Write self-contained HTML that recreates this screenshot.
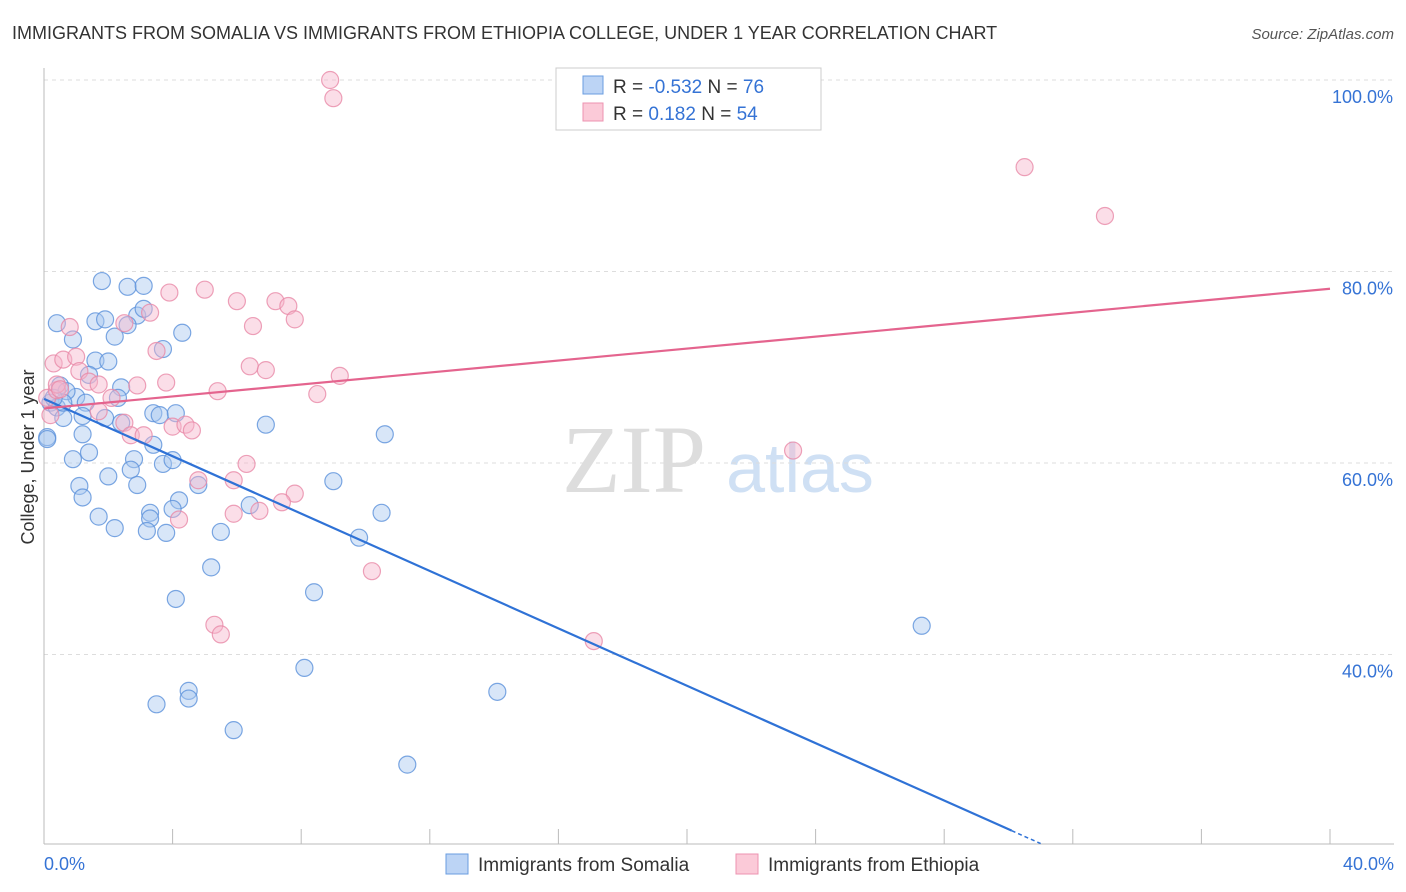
<!DOCTYPE html>
<html><head><meta charset="utf-8"><style>
body{margin:0;background:#fff;font-family:"Liberation Sans",sans-serif}
</style></head><body>
<svg id="c" width="1406" height="892" xmlns="http://www.w3.org/2000/svg" style="display:block">
<text x="12" y="39" font-size="18" fill="#333">IMMIGRANTS FROM SOMALIA VS IMMIGRANTS FROM ETHIOPIA COLLEGE, UNDER 1 YEAR CORRELATION CHART</text>
<text x="1394" y="39" font-size="15" fill="#555" font-style="italic" text-anchor="end">Source: ZipAtlas.com</text>
<text x="634" y="492" font-size="96" fill="#ddd" font-family="Liberation Serif" text-anchor="middle">ZIP</text>
<text x="800" y="492" font-size="70" fill="#cfe0f4" text-anchor="middle">atlas</text>
<text transform="translate(34,457) rotate(-90)" font-size="18" fill="#333" text-anchor="middle">College, Under 1 year</text>
<g id="grid"></g><g id="pts"></g><g id="lines"></g>
<g>
<rect x="556" y="68" width="265" height="62" fill="#fff" stroke="#ccc"/>
<rect x="583" y="76" width="20" height="18" fill="#bcd4f5" stroke="#6a9de0"/>
<rect x="583" y="103" width="20" height="18" fill="#fbcad8" stroke="#ec93b0"/>
<text x="613" y="93" font-size="19" fill="#333">R = <tspan fill="#3573d5">-0.532</tspan>   N = <tspan fill="#3573d5">76</tspan></text>
<text x="613" y="120" font-size="19" fill="#333">R =  <tspan fill="#3573d5"> 0.182</tspan>   N = <tspan fill="#3573d5">54</tspan></text>
</g>
<g>
<rect x="446" y="854" width="22" height="20" fill="#bcd4f5" stroke="#6a9de0"/>
<text x="478" y="871" font-size="19" fill="#333">Immigrants from Somalia</text>
<rect x="736" y="854" width="22" height="20" fill="#fbcad8" stroke="#ec93b0"/>
<text x="768" y="871" font-size="19" fill="#333">Immigrants from Ethiopia</text>
</g>
<text x="44" y="870" font-size="18" fill="#3573d5">0.0%</text>
<text x="1394" y="870" font-size="18" fill="#3573d5" text-anchor="end">40.0%</text>
</svg>
<script>
const yTicks=[40,60,80,100];
const yTickLabels=["40.0%","60.0%","80.0%","100.0%"];
const somaliaX=[1.8,2.6,3.1,0.4,1.6,1.9,2.9,3.1,0.9,2.2,2.6,4.3,3.7,1.6,2.0,0.5,1.4,2.4,1.0,1.3,2.3,0.2,0.4,0.6,1.2,1.9,2.4,3.4,3.6,4.1,0.1,1.2,1.4,0.9,3.4,2.8,3.7,4.0,2.7,2.0,1.1,2.9,1.2,4.8,4.2,6.4,3.3,4.0,3.3,1.7,2.2,3.2,3.8,5.5,6.9,9.0,10.6,10.5,9.8,5.2,4.1,8.4,8.1,4.5,4.5,3.5,5.9,14.1,11.3,27.3,0.1,0.7,0.6,0.3];
const somaliaY=[79.0,78.4,78.5,74.6,74.8,75.0,75.4,76.1,72.9,73.2,74.4,73.6,71.9,70.7,70.6,68.1,69.2,67.9,66.9,66.3,66.8,66.3,65.8,64.7,64.9,64.7,64.2,65.2,65.0,65.2,62.7,63.0,61.1,60.4,61.9,60.4,59.9,60.3,59.3,58.6,57.6,57.7,56.4,57.7,56.1,55.6,54.8,55.2,54.2,54.4,53.2,52.9,52.7,52.8,64.0,58.1,63.0,54.8,52.2,49.1,45.8,46.5,38.6,36.2,35.4,34.8,32.1,36.1,28.5,43.0,62.5,67.5,66.3,66.8];
const ethiopiaX=[8.9,9.0,30.5,33.0,3.9,5.0,6.0,7.2,7.6,7.8,6.5,3.3,2.5,0.8,0.3,0.6,1.0,3.5,1.1,1.4,1.7,2.9,3.8,6.4,6.9,9.2,8.5,5.4,2.1,1.7,2.5,2.7,3.1,4.0,4.4,4.6,6.3,4.8,5.9,6.7,4.2,5.9,7.8,7.4,10.2,17.1,23.3,5.3,5.5,0.1,0.4,0.2,0.4,0.5];
const ethiopiaY=[100.0,98.1,90.9,85.8,77.8,78.1,76.9,76.9,76.4,75.0,74.3,75.7,74.6,74.2,70.4,70.8,71.1,71.7,69.6,68.5,68.2,68.1,68.4,70.1,69.7,69.1,67.2,67.5,66.8,65.4,64.2,62.9,62.9,63.8,64.0,63.4,59.9,58.2,58.2,55.0,54.1,54.7,56.8,55.9,48.7,41.4,61.3,43.1,42.1,66.8,67.6,65.0,68.2,67.7];
const somaliaTrend=[[0,66.7],[30.1,21.6]];
const ethiopiaTrend=[[0,65.7],[40,78.2]];
const X=v=>44+v/40*1286, Y=v=>80+(100-v)/20*191.5;
const NS="http://www.w3.org/2000/svg";
function mk(t,a,p){const e=document.createElementNS(NS,t);for(const k in a)e.setAttribute(k,a[k]);p.appendChild(e);return e;}
const g=document.getElementById('grid');
yTicks.forEach((t,i)=>{
 const l=mk('line',{x1:44,x2:1394,y1:Y(t),y2:Y(t),stroke:'#ddd','stroke-dasharray':'4,4'},g);
 
 
 const tx=mk('text',{x:1393,y:Y(t)+23,'font-size':18,fill:'#3573d5','text-anchor':'end'},g);
 tx.textContent=yTickLabels[i];
 
 
});
mk('line',{x1:44,x2:44,y1:68,y2:844,stroke:'#bbb'},g);
mk('line',{x1:44,x2:1394,y1:844,y2:844,stroke:'#bbb'},g);
for(let i=0;i<=10;i++){const x=44+i*128.6;mk('line',{x1:x,x2:x,y1:829,y2:844,stroke:'#bbb'},g);}
const pg=document.getElementById('pts');
function dots(xs,ys,fill,stroke,name){xs.forEach((x,i)=>{
 const c=mk('circle',{cx:X(x),cy:Y(ys[i]),r:8.5,fill:fill,'fill-opacity':0.45,stroke:stroke,'stroke-opacity':0.8,'stroke-width':1.2},pg);
 
 
});}
dots(somaliaX,somaliaY,'#a9c8f0','#5b91db','somalia-point');
dots(ethiopiaX,ethiopiaY,'#f7b6cb','#e88aa8','ethiopia-point');
const lg=document.getElementById('lines');
const b=somaliaTrend;
let l1=mk('line',{x1:X(b[0][0]),y1:Y(b[0][1]),x2:X(b[1][0]),y2:Y(b[1][1]),stroke:'#2f72d6','stroke-width':2.2},lg);


const sl=(b[1][1]-b[0][1])/(b[1][0]-b[0][0]);
mk('line',{x1:X(b[1][0]),y1:Y(b[1][1]),x2:X(31),y2:Y(b[0][1]+sl*31),stroke:'#2f72d6','stroke-width':1.5,'stroke-dasharray':'4,3'},lg);
const p=ethiopiaTrend;
let l2=mk('line',{x1:X(p[0][0]),y1:Y(p[0][1]),x2:X(p[1][0]),y2:Y(p[1][1]),stroke:'#e4648e','stroke-width':2.2},lg);


</script>
</body></html>
